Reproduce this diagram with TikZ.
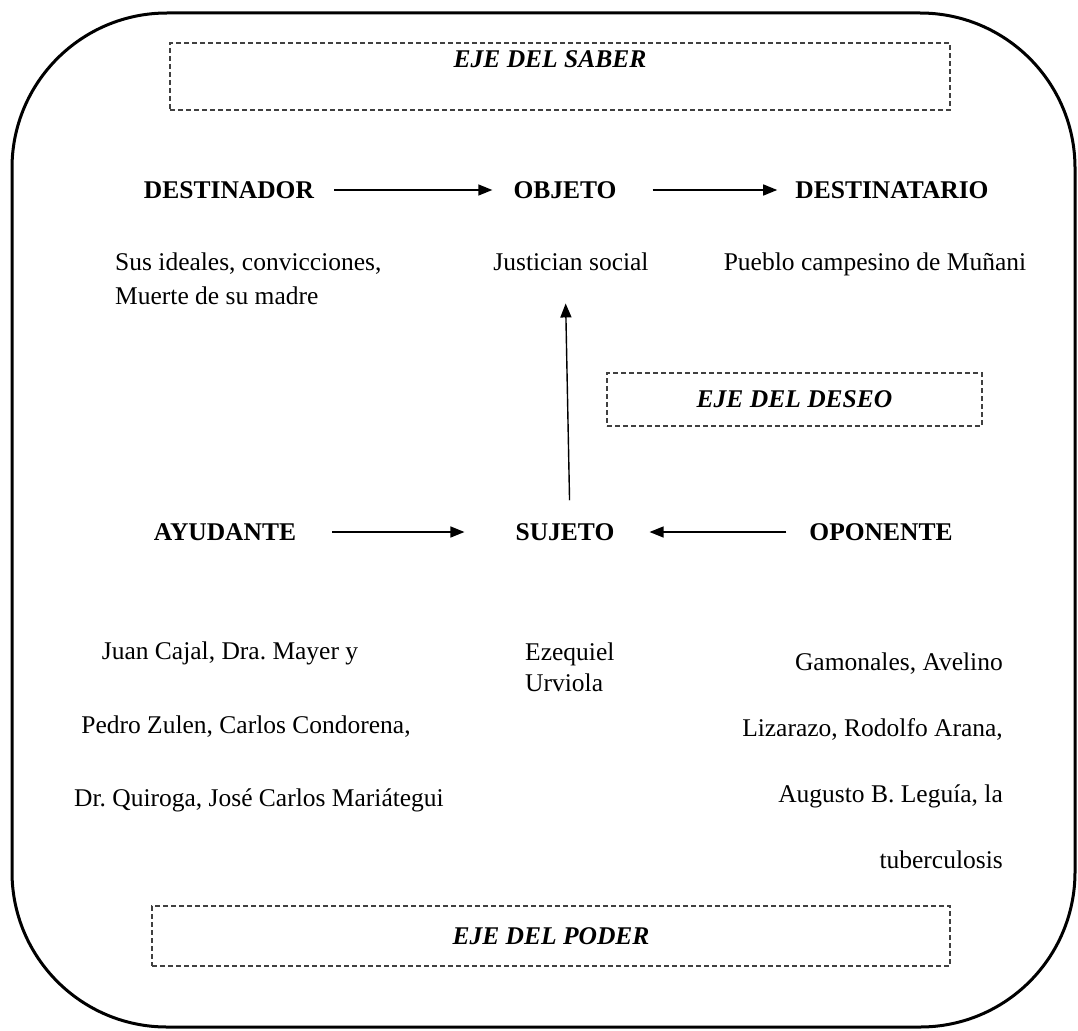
\documentclass[tikz,border=0pt]{standalone}
\usepackage{fontspec}
\setmainfont{Liberation Serif}
\usetikzlibrary{arrows.meta,positioning}
\frenchspacing
\newcommand{\tam}{\fontsize{25.5}{34}\selectfont}
\tikzset{
rol/.style={font=\tam\bfseries, inner sep=0pt},
texto/.style={font=\tam, inner sep=0pt},
ejebox/.style={draw=black!75, dash pattern=on 5pt off 3pt, line width=1.2pt},
eje/.style={font=\tam\bfseries\itshape, inner sep=0pt},
flecha/.style={line width=1.4pt, -{Triangle[length=14pt,width=11pt]}},
marco/.style={line width=3pt, rounded corners=155pt}
}

\begin{document}
\begin{tikzpicture}[x=1pt, y=-1pt]
	\useasboundingbox (0,0) rectangle (1078,1030);
	\draw[marco] (12,13) rectangle (1075,1027);
	\node[ejebox, minimum width=780pt, minimum height=67pt] (saber) at (560,76.5) {};
	\node[eje, below=8pt of saber.north, xshift=-10pt] (saberlbl) {EJE DEL SABER};
	\node[ejebox, minimum width=375pt, minimum height=53pt] (deseo) at (794.5,399.5) {};
	\node[eje] (deseolbl) at (deseo.center) {EJE DEL DESEO};
	\node[ejebox, minimum width=798pt, minimum height=60pt] (poder) at (551,936) {};
	\node[eje] (poderlbl) at (poder.center) {EJE DEL PODER};

	\node[rol] (destinador) at (229,190) {DESTINADOR};
	\node[rol] (objeto) at (565,190) {OBJETO};
	\node[rol] (destinatario) at (892,190) {DESTINATARIO};
	\node[rol] (ayudante) at (225,532) {AYUDANTE};
	\node[rol] (sujeto) at (565,532) {SUJETO};
	\node[rol] (oponente) at (881,532) {OPONENTE};

	\node[texto, align=left, anchor=west] (ideales) at (115,279) {Sus ideales, convicciones,\\Muerte de su madre};
	\node[texto, anchor=base] (justicia) at (571,270) {Justician social};
	\node[texto, anchor=base] (pueblo) at (875,270) {Pueblo campesino de Muñani};

	\node[texto] (ayuda1) at (230,653) {Juan Cajal, Dra. Mayer y};
	\node[texto] (ayuda2) at (246,727) {Pedro Zulen, Carlos Condorena,};
	\node[texto] (ayuda3) at (259,800) {Dr. Quiroga, José Carlos Mariátegui};
	\node[texto, font=\fontsize{25.5}{31}\selectfont, align=left, anchor=west] (ezequiel) at (525,667) {Ezequiel\\Urviola};
	\node[texto, font=\fontsize{25.5}{66}\selectfont, align=right, anchor=north east] (opone) at (1003,653) {Gamonales, Avelino\\Lizarazo, Rodolfo Arana,\\Augusto B. Leguía, la\\tuberculosis};

	\draw[flecha, shorten <=20pt, shorten >=21pt] (destinador) -- (objeto);
	\draw[flecha, shorten <=36pt, shorten >=18pt] (objeto) -- (destinatario);
	\draw[flecha, shorten <=36pt, shorten >=51pt] (ayudante) -- (sujeto);
	\draw[flecha, shorten <=23pt, shorten >=35pt] (oponente) -- (sujeto);
	\draw[flecha, shorten <=23pt, shorten >=33pt] ([xshift=5pt]sujeto.north) -- ([xshift=-6pt]justicia.south);
\end{tikzpicture}
\end{document}
